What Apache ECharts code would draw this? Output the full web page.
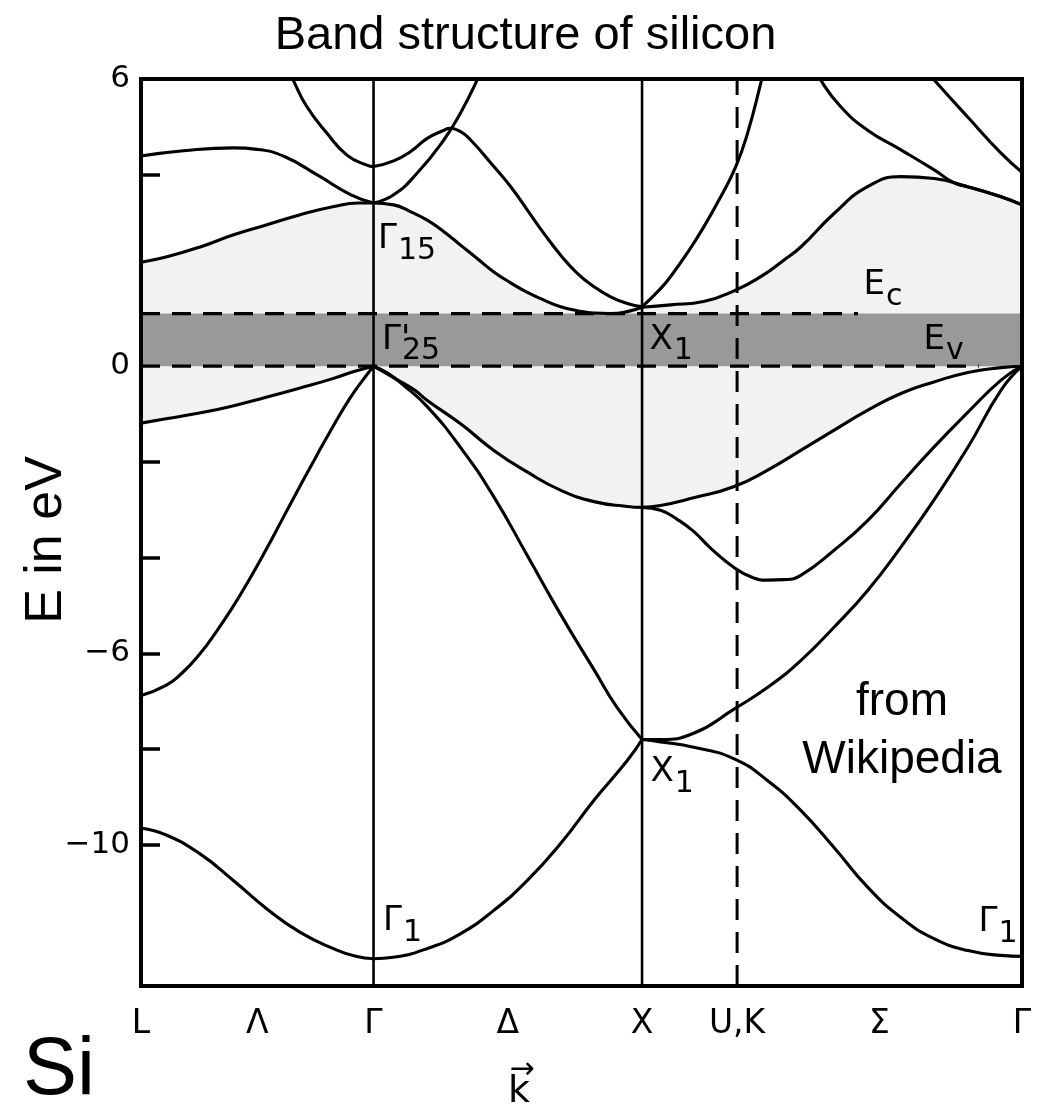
<!DOCTYPE html>
<html><head><meta charset="utf-8">
<script src="https://cdn.jsdelivr.net/npm/echarts@6/dist/echarts.min.js"></script>
<style>html,body{margin:0;padding:0;background:#fff}#c{width:1051px;height:1113px}</style>
</head><body><div id="c"></div>
<script>
// ---- axis data ----
const kPointNames = ['L', 'Λ', 'Γ', 'Δ', 'X', 'U,K', 'Σ', 'Γ'];
const kPointPos   = [0, 0.433, 0.866, 1.366, 1.866, 2.220, 2.750, 3.281];
const solidLinesK = [0.866, 1.866];
const dashedLineK = 2.220;
const yMin = -12.95, yMax = 6;
const yTickValues  = [-10, -8, -6, -4, -2, 0, 2, 4, 6];
const yLabelValues = [6, 0, -6, -10];
const Ev = 0, Ec = 1.1;
const EvLineEndK = 3.12, EcLineEndK = 2.67;

// ---- bands: each band = segments [L-Γ, Γ-X, X-U,K-Γ], points [k, E(eV)] ----
const bandV1 = [
  [[0,-9.65],[0.096,-9.80],[0.220,-10.19],[0.345,-10.75],[0.469,-11.34],[0.593,-11.83],[0.717,-12.17],[0.80,-12.33],[0.866,-12.38]],
  [[0.866,-12.38],[0.940,-12.35],[1.065,-12.17],[1.189,-11.86],[1.314,-11.37],[1.438,-10.75],[1.562,-9.98],[1.687,-9.07],[1.811,-8.24],[1.866,-7.80]],
  [[1.866,-7.80],[1.935,-7.85],[2.058,-7.96],[2.207,-8.20],[2.334,-8.66],[2.457,-9.28],[2.580,-10.05],[2.707,-10.89],[2.830,-11.52],[2.953,-11.96],[3.080,-12.21],[3.203,-12.31],[3.281,-12.33]]
];
const bandV2 = [
  [[0,-6.88],[0.093,-6.67],[0.155,-6.40],[0.218,-6.02],[0.280,-5.55],[0.342,-5.03],[0.404,-4.45],[0.466,-3.83],[0.528,-3.18],[0.590,-2.53],[0.652,-1.89],[0.714,-1.27],[0.776,-0.69],[0.826,-0.29],[0.866,0]],
  [[0.866,0],[0.92,-0.15],[0.978,-0.40],[1.065,-0.84],[1.189,-1.69],[1.314,-2.73],[1.438,-3.95],[1.562,-5.18],[1.687,-6.34],[1.774,-7.14],[1.866,-7.80]],
  [[1.866,-7.80],[1.935,-7.80],[2.058,-7.67],[2.207,-7.17],[2.334,-6.71],[2.457,-6.15],[2.580,-5.46],[2.707,-4.68],[2.830,-3.78],[2.953,-2.80],[3.080,-1.69],[3.203,-0.50],[3.281,0]]
];
const bandV3 = [
  [[1.866,-2.95],[1.935,-3.01],[1.997,-3.20],[2.058,-3.45],[2.121,-3.80],[2.207,-4.20],[2.271,-4.40],[2.334,-4.47],[2.395,-4.46],[2.457,-4.37],[2.580,-3.85],[2.707,-3.22],[2.830,-2.45],[2.953,-1.69],[3.080,-0.96],[3.203,-0.29],[3.281,0]]
];
const bandV4 = [
  [[0,-1.19],[0.093,-1.10],[0.218,-0.98],[0.342,-0.83],[0.466,-0.65],[0.590,-0.46],[0.714,-0.26],[0.80,-0.10],[0.866,0]],
  [[0.866,0],[0.95,-0.27],[1.019,-0.50],[1.065,-0.71],[1.189,-1.20],[1.314,-1.76],[1.438,-2.21],[1.562,-2.59],[1.687,-2.83],[1.811,-2.93],[1.866,-2.95]],
  [[1.866,-2.95],[1.935,-2.91],[2.058,-2.75],[2.207,-2.52],[2.334,-2.17],[2.457,-1.76],[2.580,-1.34],[2.707,-0.92],[2.830,-0.57],[2.953,-0.33],[3.080,-0.13],[3.203,-0.03],[3.281,0]]
];
const bandC1 = [
  [[0,2.17],[0.093,2.28],[0.220,2.49],[0.342,2.74],[0.466,2.95],[0.590,3.16],[0.714,3.33],[0.81,3.41],[0.866,3.41]],
  [[0.866,3.41],[0.941,3.37],[1.003,3.23],[1.066,3.05],[1.128,2.81],[1.190,2.53],[1.252,2.25],[1.314,1.97],[1.377,1.74],[1.439,1.54],[1.501,1.38],[1.563,1.24],[1.625,1.16],[1.687,1.11],[1.749,1.10],[1.811,1.14],[1.866,1.23]],
  [[1.866,1.23],[1.972,1.28],[2.095,1.35],[2.215,1.59],[2.308,1.87],[2.395,2.22],[2.457,2.49],[2.581,3.19],[2.706,3.75],[2.830,3.96],[2.954,3.92],[3.078,3.75],[3.203,3.54],[3.281,3.37]]
];
const bandC2 = [
  [[0,4.39],[0.158,4.50],[0.345,4.56],[0.432,4.53],[0.534,4.38],[0.658,3.99],[0.782,3.58],[0.866,3.41]],
  [[0.866,3.41],[0.941,3.58],[1.028,4.03],[1.127,4.72],[1.189,5.28],[1.252,5.98],[1.29,6.5]]
];
const bandC3 = [
  [[0.53,6.4],[0.568,5.96],[0.618,5.42],[0.692,4.87],[0.767,4.41],[0.841,4.20],[0.866,4.17]],
  [[0.866,4.17],[0.941,4.29],[1.003,4.48],[1.066,4.76],[1.128,4.93],[1.150,4.97],[1.190,4.90],[1.227,4.73],[1.314,4.17],[1.377,3.75],[1.439,3.26],[1.501,2.77],[1.563,2.32],[1.625,1.94],[1.687,1.66],[1.749,1.45],[1.811,1.31],[1.866,1.24]],
  [[1.866,1.24],[1.935,1.62],[1.972,1.87],[2.034,2.36],[2.096,2.91],[2.159,3.54],[2.215,4.17],[2.258,4.85],[2.308,5.91],[2.33,6.45]]
];
const bandC4 = [
  [[2.505,6.3],[2.531,5.98],[2.606,5.42],[2.706,4.93],[2.830,4.52],[2.954,4.10],[3.028,3.83],[3.078,3.75],[3.203,3.54],[3.281,3.37]]
];
const bandC5 = [
  [[2.90,6.33],[2.954,5.98],[3.078,5.21],[3.203,4.45],[3.281,4.05]]
];

// ---- point annotations ----
const annotMain = ['Γ', "Γ'", 'X', 'E', 'E', 'X', 'Γ', 'Γ'];
const annotSub  = ['15', '25', '1', 'c', 'v', '1', '1', '1'];
const annotK    = [0.866, 0.866, 1.866, 3.281, 3.281, 1.866, 0.866, 3.281];
const annotE    = [3.41, 0, 0, 1.1, 0, -7.80, -12.38, -12.33];
// style: label offsets in px from the anchor point
const annotOffset = [[5,20],[9,-43],[8,-43],[-158,-45],[-98,-43],[9,16],[10,-54],[-43,-51]];

// ---- build series ----
const series = [];
const SMOOTH = 0.5;
const LINE_W = 3.1;
function addFill(segs, color, z) {
  segs.forEach(seg => series.push({
    type: 'line', data: seg, smooth: SMOOTH, symbol: 'none', silent: true, z: z,
    lineStyle: { width: 0, opacity: 0 },
    areaStyle: { color: color, opacity: 1, origin: Ev }
  }));
}
addFill(bandC1, '#f2f2f2', 1);
addFill(bandV4, '#f2f2f2', 1);
series.push({
  type: 'line', data: [[0, Ec], [kPointPos[kPointPos.length - 1], Ec]], symbol: 'none', silent: true, z: 2,
  lineStyle: { width: 0, opacity: 0 },
  areaStyle: { color: '#999999', opacity: 1, origin: Ev }
});
[bandV1, bandV2, bandV3, bandV4, bandC1, bandC2, bandC3, bandC4, bandC5].forEach(b => {
  b.forEach(seg => series.push({
    type: 'line', data: seg, smooth: SMOOTH, symbol: 'none', silent: true, z: 3, clip: true,
    lineStyle: { color: '#000', width: LINE_W }
  }));
});
solidLinesK.forEach(k => series.push({
  type: 'line', data: [[k, yMin], [k, yMax]], symbol: 'none', silent: true, z: 4,
  lineStyle: { color: '#000', width: 2.6 }
}));
series.push({
  type: 'line', data: [[dashedLineK, yMin], [dashedLineK, yMax]], symbol: 'none', silent: true, z: 4,
  lineStyle: { color: '#000', width: 3, type: [21, 12] }
});
series.push({
  type: 'line', data: [[0, Ev], [EvLineEndK, Ev]], symbol: 'none', silent: true, z: 4,
  lineStyle: { color: '#000', width: 3.2, type: [19, 12] }
});
series.push({
  type: 'line', data: [[0, Ec], [EcLineEndK, Ec]], symbol: 'none', silent: true, z: 4,
  lineStyle: { color: '#000', width: 3.2, type: [19, 12] }
});

// annotation labels: main symbol + subscript
const measureCtx = document.createElement('canvas').getContext('2d');
measureCtx.font = '34px "DejaVu Sans"';
const mainLabel = { fontFamily: 'DejaVu Sans', fontSize: 34, lineHeight: 34, color: '#000', opacity: 1, textBorderWidth: 0 };
const subLabel  = { fontFamily: 'DejaVu Sans', fontSize: 30, lineHeight: 30, color: '#000', opacity: 1, textBorderWidth: 0 };
series.push({
  type: 'scatter', silent: true, z: 6, symbolSize: 1, itemStyle: { color: '#000', opacity: 0 },
  data: annotMain.map((m, i) => ({
    value: [annotK[i], annotE[i]],
    label: Object.assign({ show: true, position: annotOffset[i], align: 'left', verticalAlign: 'top', formatter: m }, mainLabel)
  }))
});
series.push({
  type: 'scatter', silent: true, z: 6, symbolSize: 1, itemStyle: { color: '#000', opacity: 0 },
  data: annotSub.map((s, i) => {
    const w = measureCtx.measureText(annotMain[i].replace("'", '')).width;
    return {
      value: [annotK[i], annotE[i]],
      label: Object.assign({ show: true, position: [annotOffset[i][0] + w + 1, annotOffset[i][1] + 14], align: 'left', verticalAlign: 'top', formatter: s }, subLabel)
    };
  })
});

const chart = echarts.init(document.getElementById('c'), null, { renderer: 'canvas' });
chart.setOption({
  animation: false,
  backgroundColor: '#fff',
  title: {
    text: 'Band structure of silicon', left: 'center', top: 8,
    textStyle: { fontFamily: 'Liberation Sans', fontSize: 47, fontWeight: 'normal', color: '#000' }
  },
  grid: { left: 141, right: 29, top: 79, bottom: 127, show: true, borderColor: '#000', borderWidth: 4, z: 10, backgroundColor: 'rgba(0,0,0,0)' },
  xAxis: {
    type: 'value', min: 0, max: kPointPos[kPointPos.length - 1],
    axisLine: { show: false }, axisTick: { show: false }, splitLine: { show: false },
    axisLabel: {
      customValues: kPointPos, margin: 22,
      fontFamily: 'DejaVu Sans', fontSize: 33, color: '#000',
      formatter: v => { const i = kPointPos.findIndex(p => Math.abs(p - v) < 1e-6); return i >= 0 ? kPointNames[i] : ''; }
    }
  },
  yAxis: {
    type: 'value', min: yMin, max: yMax,
    axisLine: { show: false }, splitLine: { show: false },
    axisTick: { show: true, inside: true, length: 19, customValues: yTickValues, lineStyle: { color: '#000', width: 3.5 } },
    axisLabel: {
      customValues: yLabelValues, margin: 11,
      fontFamily: 'DejaVu Sans', fontSize: 31, color: '#000',
      formatter: v => v < 0 ? '\u2212' + Math.abs(v) : String(v)
    }
  },
  graphic: [
    { type: 'text', x: 47, y: 540, rotation: Math.PI / 2, z: 20,
      style: { text: 'E in eV', font: '52px "Liberation Sans"', fill: '#000', align: 'center', verticalAlign: 'middle' } },
    { type: 'text', x: 23, y: 1072, z: 20,
      style: { text: 'Si', font: '81px "Liberation Sans"', fill: '#000', align: 'left', verticalAlign: 'middle' } },
    { type: 'text', x: 522, y: 1070, z: 20,
      style: { text: '\u2192', font: '30px "DejaVu Sans"', fill: '#000', align: 'center', verticalAlign: 'middle' } },
    { type: 'text', x: 519, y: 1092, z: 20,
      style: { text: 'k', font: '38px "DejaVu Sans"', fill: '#000', align: 'center', verticalAlign: 'middle' } },
    { type: 'text', x: 902, y: 731, z: 20,
      style: { text: 'from\nWikipedia', font: '46px "Liberation Sans"', lineHeight: 58, fill: '#000', align: 'center', verticalAlign: 'middle' } }
  ],
  series: series
});
</script></body></html>
